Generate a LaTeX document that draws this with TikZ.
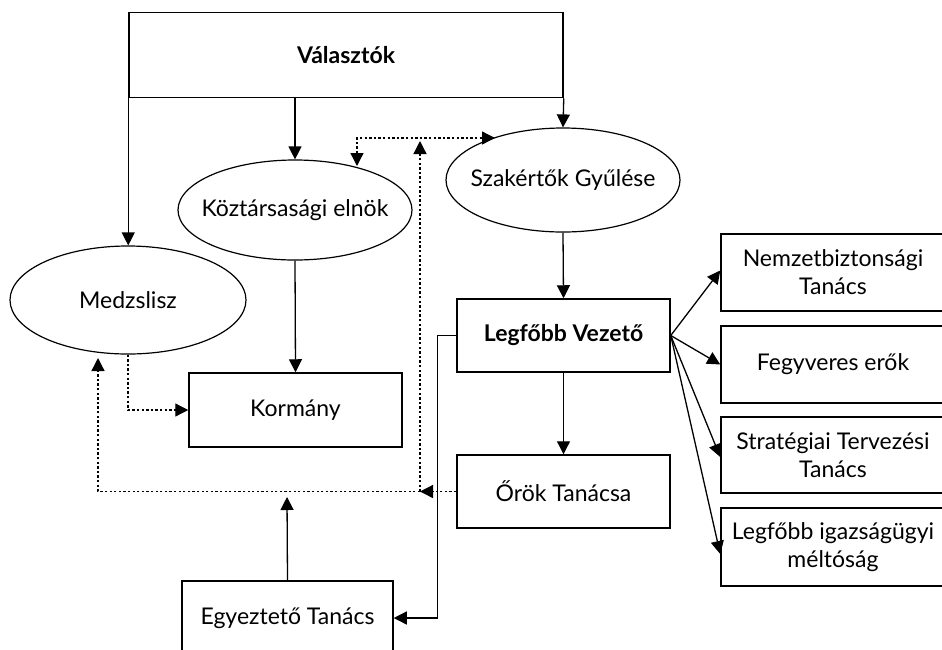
\documentclass[tikz,border=0pt]{standalone}
\usepackage{fontspec}
\setmainfont{Lato}
\usetikzlibrary{arrows.meta,shapes.geometric}
\newcommand{\zw}[1]{\makebox[0pt]{#1}}
\begin{document}
\begin{tikzpicture}[x=1pt,y=-1pt,
  every node/.style={font=\fontsize{23}{28}\selectfont, align=center, inner sep=0pt},
  box/.style={draw, line width=1.5pt, rectangle},
  oval/.style={draw, line width=1.2pt, ellipse},
  conn/.style={line width=1.3pt, -{Triangle[length=13pt,width=13pt]}},
  dot/.style={line width=1.3pt, dash pattern=on 2.3pt off 2.3pt},
  dotarr/.style={dot, -{Triangle[length=13pt,width=13pt]}},
  dotboth/.style={dot, {Triangle[length=13pt,width=13pt]}-{Triangle[length=13pt,width=13pt]}}
]
\useasboundingbox (0,0) rectangle (942,649);
% nodes
\node[box, minimum width=434pt, minimum height=85pt, font=\fontsize{23}{28}\selectfont\bfseries] (V) at (346,55) {Választók};
\node[oval, minimum width=234pt, minimum height=100pt] (KE) at (295,210) {\zw{Köztársasági elnök}};
\node[oval, minimum width=234pt, minimum height=104pt] (SZ) at (563,180) {\zw{Szakértők Gyűlése}};
\node[oval, minimum width=236pt, minimum height=108pt] (M) at (128,300) {\zw{Medzslisz}};
\node[box, minimum width=213pt, minimum height=74pt] (K) at (295.5,410) {Kormány};
\node[box, minimum width=213pt, minimum height=73pt, font=\fontsize{23}{28}\selectfont\bfseries] (LV) at (563.5,335.5) {Legfőbb Vezető};
\node[box, minimum width=213pt, minimum height=73pt] (OT) at (563.5,491.5) {Őrök Tanácsa};
\node[box, minimum width=211pt, minimum height=74pt] (ET) at (287.5,618) {Egyeztető Tanács};
\node[box, minimum width=224pt, minimum height=77pt] (NB) at (833,272.5) {Nemzetbiztonsági\\Tanács};
\node[box, minimum width=224pt, minimum height=77pt] (FE) at (833,364.5) {Fegyveres erők};
\node[box, minimum width=224pt, minimum height=76pt] (ST) at (833,455) {Stratégiai Tervezési\\Tanács};
\node[box, minimum width=224pt, minimum height=78pt] (LI) at (833,547) {Legfőbb igazságügyi\\méltóság};
% coordinates
\coordinate (J) at (420,491.5);
\coordinate (Jup) at (420,141);
\coordinate (Mleft) at (98,491.5);
\coordinate (Mtip) at (98,358);
\coordinate (KEtop) at (357,166);
\coordinate (SZtop) at (495,138);
\coordinate (ETtip) at (287,497);
% solid connectors
\draw[conn] (V.south west) -- (V.south west |- M.north);
\draw[conn] (KE.north |- V.south) -- (KE.north);
\draw[conn] (V.south east) -- (SZ.north);
\draw[conn] (KE.south) -- (K.north);
\draw[conn] (SZ.south) -- (LV.north);
\draw[conn] (LV.south) -- (OT.north);
\draw[conn] (LV.east) -- ([yshift=2pt]NB.west);
\draw[conn] (LV.east) -- (FE.west);
\draw[conn] (LV.east) -- ([yshift=-2pt]ST.west);
\draw[conn] (LV.east) -- ([yshift=-7pt]LI.west);
\draw[conn] (LV.west) -- ++(-19,0) |- (ET.east);
\draw[conn] (ET.north) -- (ETtip);
% dotted connectors
\draw[dotarr] (OT.west) -- (J);
\draw[dotarr] (J) -- (Jup);
\draw[dotarr] (J) -- (Mleft) -- (Mtip);
\draw[dotarr] (M.south) |- (K.west);
\draw[dotboth] (KEtop) |- (SZtop);
\end{tikzpicture}
\end{document}
